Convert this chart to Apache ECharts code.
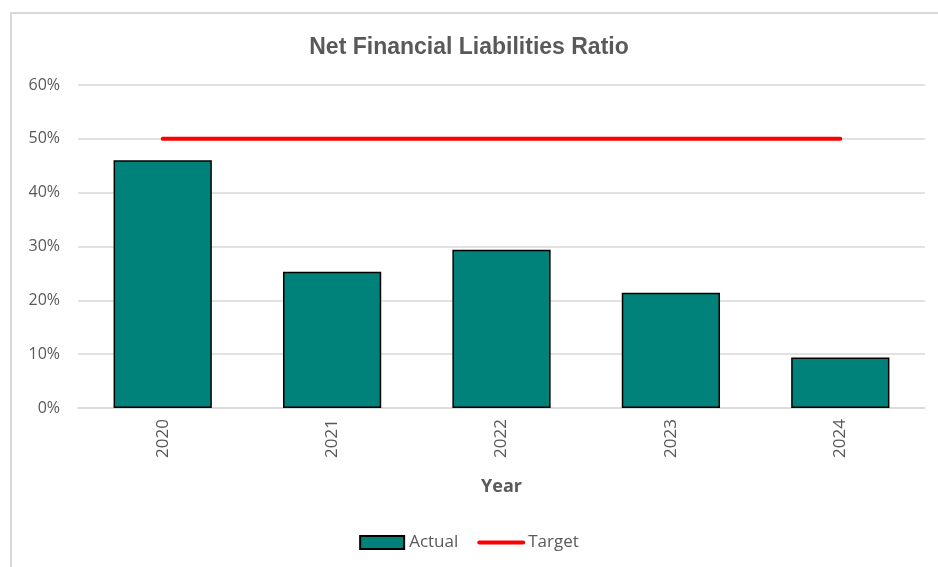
<!DOCTYPE html>
<html lang="en">
<head>
    <meta charset="UTF-8">
    <title>Net Financial Liabilities Ratio</title>
    <script src="https://cdn.jsdelivr.net/npm/echarts@6/dist/echarts.min.js"></script>
    <style>
        html, body {margin: 0; padding: 0; background: #fff; overflow: hidden;}
        .frame {position: absolute; left: 10px; top: 12px; width: 940px; height: 570px; border: 2px solid #d9d9d9; box-sizing: border-box;}
        #main {position: absolute; left: 0; top: 0; width: 938px; height: 567px;}
    </style>
</head>
<body>
    <div class="frame"></div>
    <div id="main"></div>
    <script>
        var years = ['2020', '2021', '2022', '2023', '2024'];
        var actual = [46.0, 25.3, 29.4, 21.4, 9.4];
        var target = [50, 50, 50, 50, 50];
        var yTicks = [0, 10, 20, 30, 40, 50, 60];

        var font = '"Open Sans", sans-serif';
        var myChart = echarts.init(document.getElementById('main'));
        var option = {
            animation: false,
            title: {
                text: 'Net Financial Liabilities Ratio',
                left: 'center',
                top: 31,
                textStyle: {color: '#595959', fontSize: 23, fontWeight: 'bold', fontFamily: '"Liberation Sans", Arial, sans-serif'}
            },
            legend: {
                bottom: 11,
                left: 'center',
                itemWidth: 44,
                itemHeight: 13,
                itemGap: 19,
                textStyle: {color: '#595959', fontSize: 17, fontFamily: font},
                data: [
                    {name: 'Actual', icon: 'rect'},
                    {name: 'Target', itemStyle: {opacity: 0}, lineStyle: {width: 4, cap: 'round', color: '#ff0000'}}
                ]
            },
            grid: {left: 78, right: 13, top: 85, bottom: 159, containLabel: false},
            xAxis: {
                type: 'category',
                data: years,
                name: 'Year',
                nameLocation: 'middle',
                nameGap: 70,
                nameTextStyle: {color: '#595959', fontSize: 18, fontWeight: 'bold', fontFamily: font},
                axisLine: {lineStyle: {color: '#d9d9d9', width: 1.5}},
                axisTick: {show: false},
                axisLabel: {rotate: 90, margin: 11, color: '#595959', fontSize: 17, fontFamily: font}
            },
            yAxis: {
                type: 'value',
                min: yTicks[0],
                max: yTicks[yTicks.length - 1],
                interval: 10,
                axisLine: {show: false},
                axisTick: {show: false},
                axisLabel: {formatter: '{value}%', margin: 18, color: '#595959', fontSize: 16, fontFamily: font},
                splitLine: {lineStyle: {color: '#d9d9d9', width: 1.5}}
            },
            series: [{
                name: 'Actual',
                type: 'bar',
                data: actual,
                barWidth: '58%',
                itemStyle: {color: '#00827A', borderColor: '#000', borderWidth: 1.5}
            }, {
                name: 'Target',
                type: 'line',
                data: target,
                symbol: 'none',
                lineStyle: {color: '#ff0000', width: 4, cap: 'round'},
                itemStyle: {color: '#ff0000'}
            }]
        };
        myChart.setOption(option);
    </script>
</body>
</html>
